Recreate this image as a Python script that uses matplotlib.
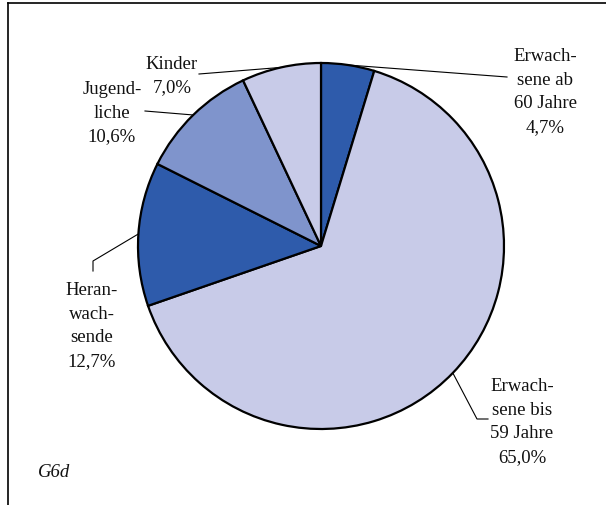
import numpy as np
import matplotlib.pyplot as plt
from matplotlib.lines import Line2D

plt.rcParams['font.family'] = ['Liberation Serif', 'DejaVu Serif']

# Data (clockwise from top)
labels = ["Erwach-\nsene ab\n60 Jahre", "Erwach-\nsene bis\n59 Jahre", "Heran-\nwach-\nsende",
          "Jugend-\nliche", "Kinder"]
shares = [4.7, 65.0, 12.7, 10.6, 7.0]
colors = ["#2E5BAB", "#C8CBE8", "#2E5BAB", "#7F94CC", "#C8CBE8"]

W, H = 606, 506
fig = plt.figure(figsize=(W / 100, H / 100), dpi=100)
ax = fig.add_axes([0, 0, 1, 1])

cx, cy, r = 321, H - 247, 183
wedges, _ = ax.pie(shares, colors=colors, startangle=90, counterclock=False,
                   center=(cx, cy), radius=r, frame=True,
                   wedgeprops=dict(edgecolor='black', linewidth=1.6))
ax.set_xlim(0, W)
ax.set_ylim(0, H)
ax.set_aspect('equal')
ax.axis('off')

# label text positions (pixel coords, y from top) and leader line path
text_pos = [(545, 92), (522, 422), (92, 326), (112, 113), (172, 76)]
leader = [[(507, 78)], [(477, 420), (488, 420)], [(93, 262), (93, 272)],
          [(145, 112)], [(199, 75)]]

for w, lab, val, (tx, ty), pts in zip(wedges, labels, shares, text_pos, leader):
    ang = np.deg2rad((w.theta1 + w.theta2) / 2)
    ex, ey = cx + r * np.cos(ang), cy + r * np.sin(ang)
    xs = [ex] + [p[0] for p in pts]
    ys = [ey] + [H - p[1] for p in pts]
    ax.plot(xs, ys, color='black', lw=0.8)
    txt = lab + "\n" + f"{val:.1f}".replace(".", ",") + "%"
    ax.text(tx, H - ty, txt, ha='center', va='center', fontsize=13.5,
            linespacing=1.5, color='#111111')

ax.text(38, H - 473, "G6d", ha='left', va='center', fontsize=13.5,
        style='italic', color='#111111')

# frame (top and left only)
fig.add_artist(Line2D([8 / W, 1], [1 - 4 / H, 1 - 4 / H], color='black', lw=1.2))
fig.add_artist(Line2D([8 / W, 8 / W], [0, 1 - 4 / H], color='black', lw=1.2))

fig.savefig("out.png", dpi=100)
